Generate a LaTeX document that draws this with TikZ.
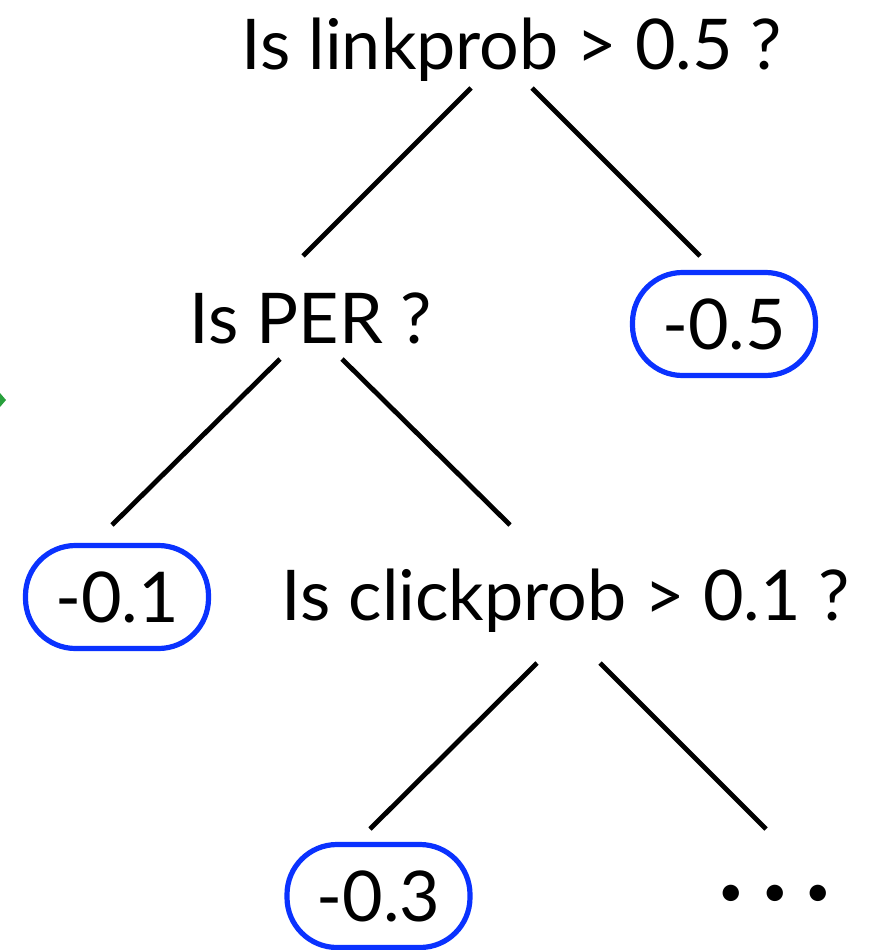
\documentclass[tikz,border=0pt]{standalone}
\usepackage{fontspec}
\setmainfont{Lato}
\definecolor{leafblue}{RGB}{10,50,255}
\definecolor{markgreen}{RGB}{40,160,60}
\tikzset{
  q/.style={inner sep=0pt, anchor=base, font=\fontsize{70}{80}\selectfont},
  leaf/.style={draw=leafblue, line width=5.2pt, rounded corners=50pt,
    minimum width=183pt, minimum height=103pt, inner sep=0pt,
    font=\fontsize{70}{80}\selectfont},
  edge/.style={line width=4.8pt},
}
\begin{document}
\begin{tikzpicture}[x=1pt,y=-1pt]
\useasboundingbox (0,0) rectangle (868,950);
% question nodes
\node[q] (root) at (512,70) {Is linkprob > 0.5 ?};
\node[q] (per) at (311,343) {Is PER ?};
\node[q] (click) at (566,620) {Is clickprob > 0.1 ?};
% leaves
\node[leaf] (lA) at (724,324) {-0.5};
\node[leaf] (lB) at (117,597) {-0.1};
\node[leaf] (lC) at (378.5,896) {-0.3};
\node[inner sep=0pt, font=\fontsize{44}{48}\selectfont] (dots) at (775,896) {•\hspace{18pt}•\hspace{18pt}•};
% connector ends
\coordinate (rootL) at (471,88);
\coordinate (rootR) at (532,88);
\coordinate (perTop) at (303,256);
\coordinate (lATop) at (700,256);
\coordinate (perL) at (280,359);
\coordinate (perR) at (342,359);
\coordinate (lBTop) at (112,525);
\coordinate (clickTop) at (510,525);
\coordinate (clickL) at (537,663);
\coordinate (clickR) at (600,663);
\coordinate (lCTop) at (370,829);
\coordinate (dotsTop) at (766,829);
\draw[edge] (rootL) -- (perTop);
\draw[edge] (rootR) -- (lATop);
\draw[edge] (perL) -- (lBTop);
\draw[edge] (perR) -- (clickTop);
\draw[edge] (clickL) -- (lCTop);
\draw[edge] (clickR) -- (dotsTop);
% partial green marker at left edge
\fill[markgreen] (0,393) -- (6,400) -- (0,407) -- cycle;
\end{tikzpicture}
\end{document}
